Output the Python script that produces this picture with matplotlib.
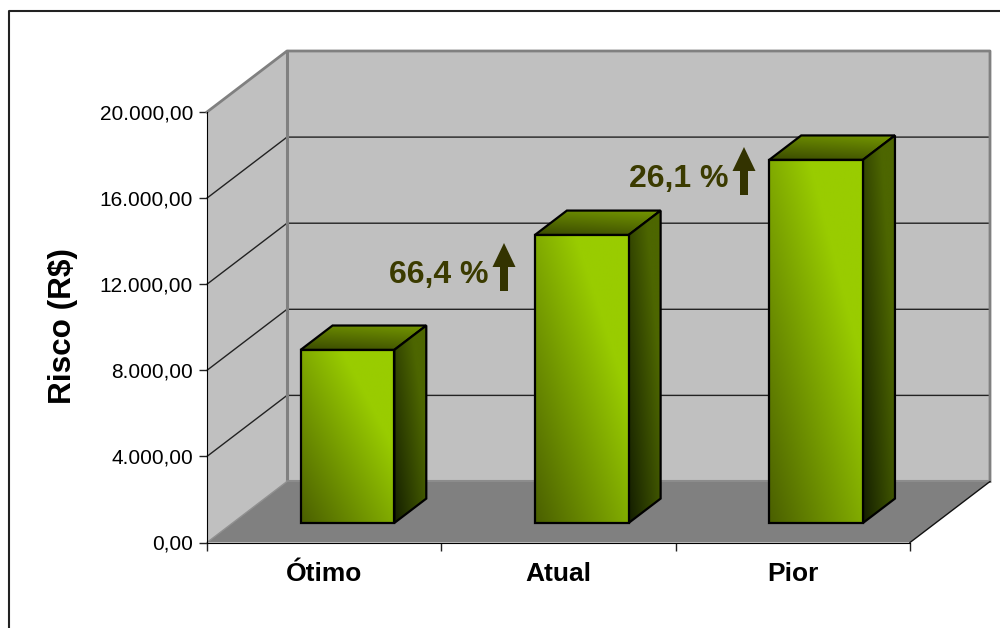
import numpy as np
import matplotlib
matplotlib.use("Agg")
import matplotlib.pyplot as plt
from matplotlib.colors import LinearSegmentedColormap
from matplotlib.patches import Polygon
from matplotlib.ticker import FuncFormatter, MultipleLocator
from matplotlib.transforms import Affine2D

plt.rcParams['font.family'] = ['Liberation Sans', 'DejaVu Sans']

categorias = ["Ótimo", "Atual", "Pior"]
risco = [8040, 13380, 16870]
variacao = [None, "66,4 %", "26,1 %"]
y_max = 20000
y_passo = 4000

# oblique projection of the depth axis, in data units
DX = 0.3414
DY = 2834
BAR_W = 0.40
BAR_D0 = 0.32
BAR_D1 = 0.72


def proj(x, y, d):
    return (x + d * DX, y + d * DY)


def formato_br(v, pos=None):
    return f"{v:,.2f}".replace(",", "#").replace(".", ",").replace("#", ".")


fig = plt.figure(figsize=(10, 6.28), dpi=100)
ax = fig.add_axes([0.207, 85.5 / 628, 0.703, 430.5 / 628])
ax.set_xlim(0, len(categorias))
ax.set_ylim(0, y_max)
ax.patch.set_visible(False)
ax.set_autoscale_on(False)

# pixel coordinates, origin top left, for the frame and the callouts
px = Affine2D().scale(1, -1).translate(0, 628)
fig.add_artist(plt.Line2D([8.5, 8.5, 1000], [628, 10.5, 10.5], color="#222222", lw=1.5, transform=px))

n = len(categorias)
parede = "#c0c0c0"
chao = "#808080"
ax.add_patch(Polygon([proj(0, 0, 0), proj(0, y_max, 0), proj(0, y_max, 1), proj(0, 0, 1)],
                     fc=parede, ec="none", clip_on=False, zorder=1))
ax.add_patch(Polygon([proj(0, 0, 1), proj(0, y_max, 1), proj(n, y_max, 1), proj(n, 0, 1)],
                     fc=parede, ec="none", clip_on=False, zorder=1))
ax.add_patch(Polygon([proj(0, 0, 0), proj(n, 0, 0), proj(n, 0, 1), proj(0, 0, 1)],
                     fc=chao, ec="none", clip_on=False, zorder=1))

# gridlines run over the left wall and the back wall
for v in range(y_passo, y_max, y_passo):
    pts = [proj(0, v, 0), proj(0, v, 1), proj(n, v, 1)]
    ax.plot(*zip(*pts), color="#222222", lw=1, clip_on=False, zorder=1.5)

# wall edges
borda = [proj(0, y_max, 0), proj(0, y_max, 1), proj(n, y_max, 1), proj(n, 0, 1)]
ax.plot(*zip(*borda), color="#808080", lw=2, clip_on=False, zorder=1.6)
ax.plot(*zip(proj(0, y_max, 1), proj(0, 0, 1)), color="#808080", lw=2.2, clip_on=False, zorder=1.6)
ax.plot(*zip(proj(0, 0, 1), proj(n, 0, 1)), color="#8c8c8c", lw=1.5, clip_on=False, zorder=1.6)
ax.plot(*zip(proj(0, 0, 0), proj(0, 0, 1)), color="#909090", lw=1, clip_on=False, zorder=1.6)
ax.plot(*zip(proj(n, 0, 0), proj(n, 0, 1)), color="#111111", lw=1, clip_on=False, zorder=1.6)

frente = LinearSegmentedColormap.from_list("frente", ["#4a5f00", "#99cc00"])
lado = LinearSegmentedColormap.from_list("lado", ["#141e00", "#4d6600"])
topo = LinearSegmentedColormap.from_list("topo", ["#3a4a00", "#729400"])


def face(pts, cmap, peso_x, peso_y, z):
    # gradient image clipped to the face outline
    pts = np.array(pts)
    u, v = np.meshgrid(np.linspace(0, 1, 120), np.linspace(0, 1, 200))
    t = np.clip(peso_x * u + peso_y * v, 0, 1)
    ext = (pts[:, 0].min(), pts[:, 0].max(), pts[:, 1].min(), pts[:, 1].max())
    im = ax.imshow(t, cmap=cmap, vmin=0, vmax=1, origin="lower", extent=ext, aspect="auto", zorder=z)
    contorno = Polygon(pts, fc="none", ec="black", lw=1.6, joinstyle="miter", clip_on=False, zorder=z + 0.1)
    ax.add_patch(contorno)
    im.set_clip_box(fig.bbox)
    im.set_clip_path(contorno)


for i, valor in enumerate(risco):
    x0 = i + 0.490 - BAR_W / 2
    x1 = x0 + BAR_W
    face([proj(x0, valor, BAR_D0), proj(x1, valor, BAR_D0), proj(x1, valor, BAR_D1), proj(x0, valor, BAR_D1)],
         topo, 0.25, 0.8, 3)
    face([proj(x1, 0, BAR_D0), proj(x1, 0, BAR_D1), proj(x1, valor, BAR_D1), proj(x1, valor, BAR_D0)],
         lado, 0.75, 0.6, 3.2)
    face([proj(x0, 0, BAR_D0), proj(x1, 0, BAR_D0), proj(x1, valor, BAR_D0), proj(x0, valor, BAR_D0)],
         frente, 0.7, 0.7, 3.4)

# axes
for lado_eixo in ["top", "right"]:
    ax.spines[lado_eixo].set_visible(False)
ax.spines["left"].set_zorder(2)
ax.spines["bottom"].set_zorder(2)
ax.yaxis.set_major_locator(MultipleLocator(y_passo))
ax.yaxis.set_major_formatter(FuncFormatter(formato_br))
ax.tick_params(axis="y", length=6, width=1, pad=4, labelsize=15, color="#222222")
ax.set_xticks(range(n + 1))
ax.set_xticklabels([])
ax.set_xticks([i + 0.5 for i in range(n)], minor=True)
ax.set_xticklabels(categorias, minor=True, fontsize=19, fontweight="bold")
ax.tick_params(axis="x", which="major", length=6, width=1, color="#222222")
ax.tick_params(axis="x", which="minor", length=0, pad=14)
ax.set_ylabel("Risco (R$)", fontsize=22.7, fontweight="bold")
ax.yaxis.set_label_coords(-0.183, 0.503)

# callouts between the bars
notas_x = [None, 389, 629]
notas_y = [None, 272, 176]
setas_x = [None, 504, 744]
setas_y = [None, 243, 147]
for rotulo, tx, ty, sx, sy in zip(variacao, notas_x, notas_y, setas_x, setas_y):
    if rotulo is None:
        continue
    fig.text(tx, ty, rotulo, transform=px, fontsize=23, fontweight="bold", color="#3b3b00",
             ha="left", va="center_baseline")
    seta = [(sx, sy), (sx + 11.5, sy + 24), (sx + 4, sy + 24), (sx + 4, sy + 48),
            (sx - 4, sy + 48), (sx - 4, sy + 24), (sx - 11.5, sy + 24)]
    fig.add_artist(Polygon(seta, fc="#333300", ec="none", transform=px))

fig.savefig("out.png", dpi=100)
